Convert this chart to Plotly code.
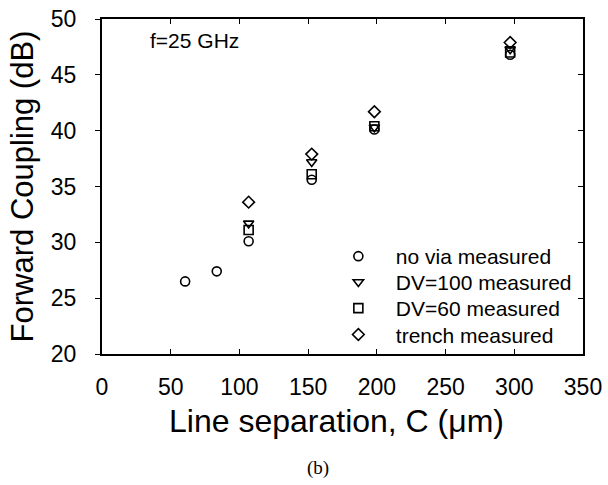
import plotly.graph_objects as go

# line separation (um) and forward coupling (dB)
sep_novia = [60.5, 83.5, 106.7, 152.6, 198.2, 297]
fc_novia = [26.5, 27.4, 30.1, 35.6, 40.1, 46.8]

sep_dv100 = [106.7, 152.6, 198.2, 297]
fc_dv100 = [31.7, 37.2, 40.3, 47.3]

sep_dv60 = [106.7, 152.6, 198.2, 297]
fc_dv60 = [31.1, 36.1, 40.4, 47.0]

sep_trench = [106.7, 152.6, 198.2, 297]
fc_trench = [33.6, 37.9, 41.7, 47.9]

names = ["no via measured", "DV=100 measured", "DV=60 measured", "trench measured"]
symbols = ["circle-open", "triangle-down-open", "square-open", "diamond-open"]

# one legend per row so the row spacing can match the original
legend_ids = ["legend", "legend2", "legend3", "legend4"]
legend_y = [0.291, 0.214, 0.136, 0.057]

font = "Liberation Sans, Arial, sans-serif"

fig = go.Figure()
series = [(sep_novia, fc_novia), (sep_dv100, fc_dv100), (sep_dv60, fc_dv60), (sep_trench, fc_trench)]
for (xs, ys), nm, sym, lg in zip(series, names, symbols, legend_ids):
    fig.add_trace(go.Scatter(
        x=xs, y=ys, name=nm, mode="markers", legend=lg,
        marker=dict(symbol=sym, size=9, color="black", line=dict(color="black", width=1.6)),
    ))

# dummy trace so the right-hand tick axis gets drawn
fig.add_trace(go.Scatter(x=sep_trench, y=fc_trench, yaxis="y2", mode="markers",
                         marker=dict(opacity=0), showlegend=False, hoverinfo="skip"))

legends = {}
for lg, ly in zip(legend_ids, legend_y):
    legends[lg] = dict(x=0.455, y=ly, xanchor="left", yanchor="middle",
                       font=dict(size=21, family=font), bgcolor="rgba(0,0,0,0)",
                       itemwidth=65, borderwidth=0)

fig.update_layout(
    width=608, height=485,
    margin=dict(l=102, r=25, t=19, b=131),
    paper_bgcolor="white", plot_bgcolor="white",
    font=dict(family=font, color="black"),
    showlegend=True,
    xaxis=dict(range=[0, 350], dtick=50, ticks="inside", ticklen=5, tickwidth=1,
               tickcolor="black", showline=True, linecolor="black", linewidth=2,
               mirror="ticks", showgrid=False, zeroline=False, automargin=False,
               tickfont=dict(size=23), ticklabelstandoff=11),
    yaxis=dict(range=[20, 50], dtick=5, ticks="outside", ticklen=5, tickwidth=1,
               tickcolor="black", showline=True, linecolor="black", linewidth=2,
               mirror=True, showgrid=False, zeroline=False, automargin=False,
               tickfont=dict(size=23), ticklabelstandoff=14,
               title=dict(text="Forward Coupling (dB)", font=dict(size=31), standoff=8)),
    yaxis2=dict(range=[20, 50], dtick=5, overlaying="y", side="right", ticks="inside",
                ticklen=5, tickwidth=1, tickcolor="black", showticklabels=False,
                showgrid=False, zeroline=False, showline=False, automargin=False),
    annotations=[
        dict(text="Line separation, C (μm)", x=0.487, y=-0.2, xref="paper", yref="paper",
             xanchor="center", yanchor="middle", showarrow=False, font=dict(size=32)),
        dict(text="f=25 GHz", x=0.095, y=0.975, xref="paper", yref="paper",
             xanchor="left", yanchor="top", showarrow=False, font=dict(size=21)),
        dict(text="(b)", x=0.45, y=-0.3, xref="paper", yref="paper",
             xanchor="center", yanchor="top", showarrow=False,
             font=dict(size=19, family="Liberation Serif, Times New Roman, serif")),
    ],
    **legends,
)

fig.write_html("out.html", config={"displayModeBar": False},
               post_script="document.body.style.margin='0';")
